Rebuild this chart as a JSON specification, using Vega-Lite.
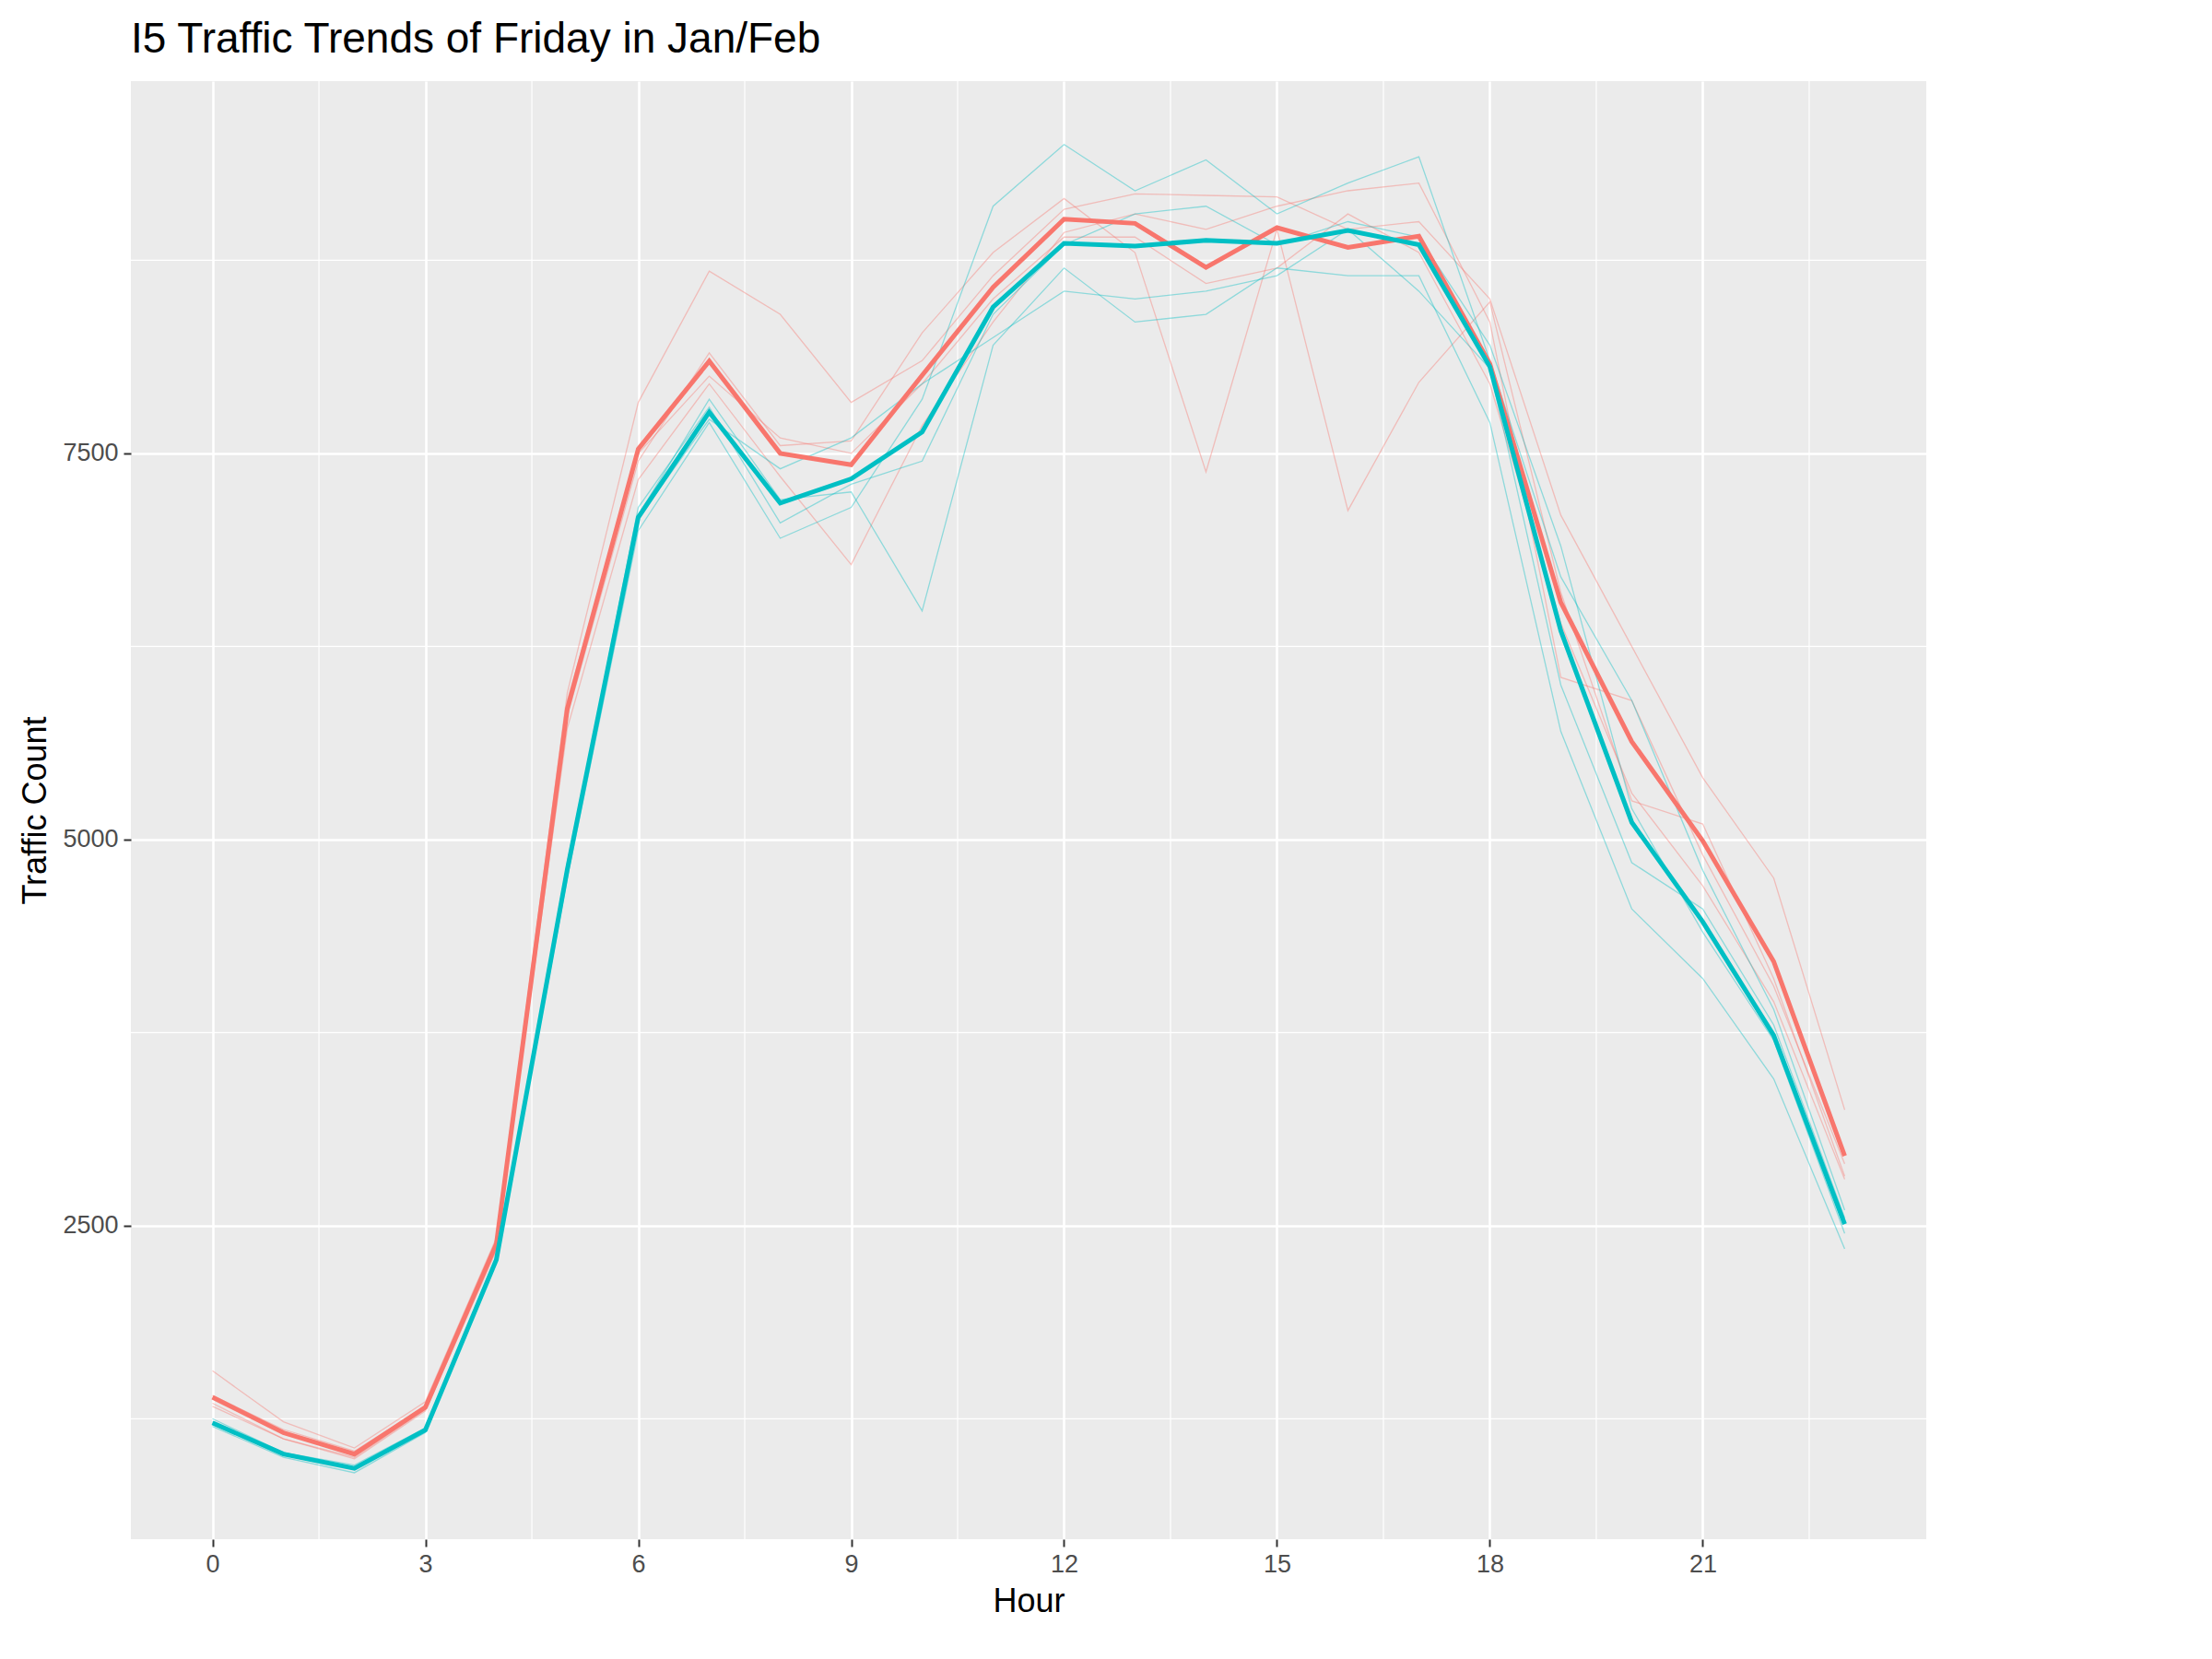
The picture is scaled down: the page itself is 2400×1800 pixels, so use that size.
{
  "$schema": "https://vega.github.io/schema/vega-lite/v6.json",
  "width": 1948,
  "height": 1582,
  "padding": {"left": 20, "right": 20, "top": 20, "bottom": 10},
  "title": {"text": "I5 Traffic Trends of Friday in Jan/Feb", "anchor": "start", "frame": "group", "fontSize": 46, "fontWeight": "normal", "font": "Liberation Sans", "color": "#000", "offset": 20},
  "datasets": {
    "weeks": [
      {"p": "Pre", "w": "P1", "h": [0,1,2,3,4,5,6,7,8,9,10,11,12,13,14,15,16,17,18,19,20,21,22,23], "c": [1560,1230,1060,1360,2420,5950,7830,8680,8400,7830,8100,8650,9080,9180,9170,9160,8950,9000,8500,7100,6250,5400,4750,3250]},
      {"p": "Pre", "w": "P2", "h": [0,1,2,3,4,5,6,7,8,9,10,11,12,13,14,15,16,17,18,19,20,21,22,23], "c": [1350,1120,990,1300,2340,5800,7450,8150,7550,7580,8280,8800,9150,8800,7380,8950,7130,7960,8480,6600,5250,5100,4100,2820]},
      {"p": "Pre", "w": "P3", "h": [0,1,2,3,4,5,6,7,8,9,10,11,12,13,14,15,16,17,18,19,20,21,22,23], "c": [1330,1120,1000,1310,2380,5720,7330,7950,7350,6780,7680,8350,8930,9050,8950,9100,9200,9250,8350,6050,5900,4900,4050,2900]},
      {"p": "Pre", "w": "P4", "h": [0,1,2,3,4,5,6,7,8,9,10,11,12,13,14,15,16,17,18,19,20,21,22,23], "c": [1400,1180,1040,1330,2380,5900,7500,8000,7600,7500,7950,8500,8900,8900,8600,8700,9050,8800,7950,6400,5300,4700,3950,2800]},
      {"p": "Post", "w": "Q1", "h": [0,1,2,3,4,5,6,7,8,9,10,11,12,13,14,15,16,17,18,19,20,21,22,23], "c": [1250,1030,950,1190,2300,4850,7100,7850,7200,7250,6480,8200,8700,8350,8400,8700,8650,8650,7700,5700,4550,4100,3450,2350]},
      {"p": "Post", "w": "Q2", "h": [0,1,2,3,4,5,6,7,8,9,10,11,12,13,14,15,16,17,18,19,20,21,22,23], "c": [1200,1000,900,1160,2260,4750,7000,7700,6950,7150,7850,9100,9500,9200,9400,9050,9250,9420,8100,6700,5900,4800,3900,2600]},
      {"p": "Post", "w": "Q3", "h": [0,1,2,3,4,5,6,7,8,9,10,11,12,13,14,15,16,17,18,19,20,21,22,23], "c": [1230,1020,930,1180,2280,4820,7150,7800,7050,7300,7450,8400,8850,9050,9100,8850,9000,8900,8200,6900,5200,4400,3700,2450]},
      {"p": "Post", "w": "Q4", "h": [0,1,2,3,4,5,6,7,8,9,10,11,12,13,14,15,16,17,18,19,20,21,22,23], "c": [1210,1030,935,1180,2290,4800,7080,7720,7400,7600,7950,8250,8550,8500,8550,8650,8950,8550,8050,6000,4850,4550,3800,2550]}
    ],
    "means": [
      {"p": "Pre", "h": [0,1,2,3,4,5,6,7,8,9,10,11,12,13,14,15,16,17,18,19,20,21,22,23], "c": [1389,1159,1021,1324,2381,5846,7528,8097,7500,7426,8005,8575,9016,8989,8704,8961,8833,8906,8079,6535,5634,4991,4210,2951]},
      {"p": "Post", "h": [0,1,2,3,4,5,6,7,8,9,10,11,12,13,14,15,16,17,18,19,20,21,22,23], "c": [1223,1021,929,1177,2280,4807,7086,7767,7178,7335,7638,8447,8860,8842,8879,8860,8943,8851,8061,6351,5111,4467,3732,2510]}
    ],
    "minorY": [{"v": 1250}, {"v": 3750}, {"v": 6250}, {"v": 8750}],
    "minorX": [{"v": 1.5}, {"v": 4.5}, {"v": 7.5}, {"v": 10.5}, {"v": 13.5}, {"v": 16.5}, {"v": 19.5}, {"v": 22.5}]
  },
  "layer": [
    {
      "data": {"name": "minorY"},
      "mark": {"type": "rule", "color": "white", "strokeWidth": 1.2},
      "encoding": {"y": {"field": "v", "type": "quantitative"}}
    },
    {
      "data": {"name": "minorX"},
      "mark": {"type": "rule", "color": "white", "strokeWidth": 1.2},
      "encoding": {"x": {"field": "v", "type": "quantitative"}}
    },
    {
      "data": {"name": "weeks"},
      "transform": [{"flatten": ["h", "c"]}],
      "mark": {"type": "line", "strokeWidth": 1.3, "opacity": 0.4},
      "encoding": {
        "x": {"field": "h", "type": "quantitative"},
        "y": {"field": "c", "type": "quantitative"},
        "detail": {"field": "w"},
        "color": {"field": "p", "type": "nominal", "legend": null}
      }
    },
    {
      "data": {"name": "means"},
      "transform": [{"flatten": ["h", "c"]}],
      "mark": {"type": "line", "strokeWidth": 5},
      "encoding": {
        "x": {"field": "h", "type": "quantitative", "title": "Hour",
          "scale": {"domain": [-1.15, 24.15], "nice": false, "zero": false},
          "axis": {"values": [0,3,6,9,12,15,18,21], "format": "d"}},
        "y": {"field": "c", "type": "quantitative", "title": "Traffic Count",
          "scale": {"domain": [470, 9910], "nice": false, "zero": false},
          "axis": {"values": [2500, 5000, 7500], "format": "d"}},
        "color": {"field": "p", "type": "nominal", "title": "Period",
          "scale": {"domain": ["Pre", "Post"], "range": ["#F8766D", "#00BFC4"]},
          "legend": {"symbolType": "stroke", "symbolStrokeWidth": 5, "symbolSize": 1600, "labelFontSize": 28, "titleFontSize": 36, "titleFontWeight": "normal", "titleColor": "#000", "labelColor": "#000", "rowPadding": 30, "titlePadding": 26, "offset": 50, "padding": 0}}
      }
    }
  ],
  "config": {
    "font": "Liberation Sans",
    "view": {"fill": "#EBEBEB", "stroke": null},
    "axis": {
      "gridColor": "white", "gridWidth": 2.6, "domain": false,
      "tickColor": "#333333", "tickSize": 8, "tickWidth": 2,
      "labelColor": "#4D4D4D", "labelFontSize": 27, "labelPadding": 6,
      "titleFontSize": 36, "titleFontWeight": "normal", "titleColor": "#000", "titlePadding": 10
    }
  }
}
